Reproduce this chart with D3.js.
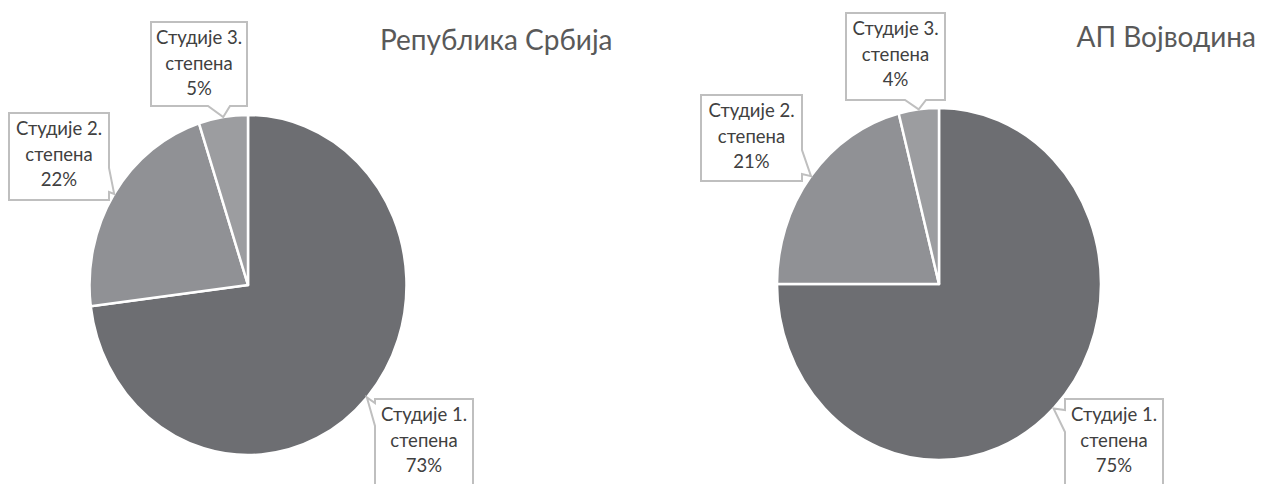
<!DOCTYPE html>
<html>
<head>
<meta charset="utf-8">
<script src="https://cdn.jsdelivr.net/npm/d3@7"></script>
<style>
  body { margin: 0; background: #fff; }
  svg { display: block; }
  text { font-family: Lato, "Open Sans", sans-serif; fill: #404040; }
</style>
</head>
<body>
<svg id="chart" width="1261" height="484"></svg>
<script>
var categories = ["Студије 1.", "Студије 2.", "Студије 3."];
var line2 = "степена";
var srbija_values = [73, 22, 5];
var vojvodina_values = [75, 21, 4];
var titles = ["Република Србија", "АП Војводина"];
var slice_colors = ["#6d6e72", "#909195", "#9c9da0"];

var svg = d3.select("#chart");

// layout of the two pies and their callout boxes
var pies = [
    {values: srbija_values, title: titles[0], cx: 248, cy: 285, rx: 158.5, ry: 170,
     title_x: 380, title_y: 50, title_anchor: "start",
     boxes: [
        {x: 375, y: 399, w: 98, h: 100, side: "left", a: 403, b: 426},
        {x: 9, y: 113, w: 100, h: 87, side: "right", a: 168, b: 192},
        {x: 151, y: 22, w: 96, h: 84, side: "bottom", a: 208, b: 230}
     ]},
    {values: vojvodina_values, title: titles[1], cx: 939, cy: 284, rx: 162, ry: 176,
     title_x: 1256, title_y: 47, title_anchor: "end",
     boxes: [
        {x: 1065, y: 399, w: 98, h: 100, side: "left", a: 410, b: 432},
        {x: 701, y: 95, w: 101, h: 86, side: "right", a: 150, b: 174},
        {x: 846, y: 13, w: 99, h: 87, side: "bottom", a: 905, b: 926}
     ]}
];

pies.forEach(function(p) {
    var arcs = d3.pie().sort(null).value(d => d)(p.values);
    var arc = d3.arc().innerRadius(0).outerRadius(p.rx);
    var edge = d3.arc().innerRadius(p.rx).outerRadius(p.rx);
    var k = p.ry / p.rx;

    var g = svg.append("g")
        .attr("transform", "translate(" + p.cx + "," + p.cy + ") scale(1," + k + ")");
    g.selectAll("path")
        .data(arcs)
        .enter().append("path")
            .attr("d", arc)
            .attr("fill", (d, i) => slice_colors[i])
            .attr("stroke", "#fff")
            .attr("stroke-width", 2.5)
            .attr("stroke-linejoin", "round")
            .attr("vector-effect", "non-scaling-stroke");

    svg.append("text")
        .attr("x", p.title_x)
        .attr("y", p.title_y)
        .attr("text-anchor", p.title_anchor)
        .attr("font-size", 28)
        .style("fill", "#595959")
        .text(p.title);

    arcs.forEach(function(d, i) {
        var c = edge.centroid(d);
        var tip = [p.cx + c[0], p.cy + c[1] * k];
        var b = p.boxes[i];
        var x0 = b.x, y0 = b.y, x1 = b.x + b.w, y1 = b.y + b.h;
        var pts;
        if (b.side == "bottom") {
            pts = [[x0, y0], [x1, y0], [x1, y1], [b.b, y1], tip, [b.a, y1], [x0, y1]];
        } else if (b.side == "right") {
            pts = [[x0, y0], [x1, y0], [x1, b.a], tip, [x1, b.b], [x1, y1], [x0, y1]];
        } else {
            pts = [[x0, y0], [x1, y0], [x1, y1], [x0, y1], [x0, b.b], tip, [x0, b.a]];
        }
        svg.append("path")
            .attr("d", d3.line()(pts) + "Z")
            .attr("fill", "#fff")
            .attr("stroke", "#bfbfbf")
            .attr("stroke-width", 2);

        var t = svg.append("text")
            .attr("text-anchor", "middle")
            .attr("font-size", 18.5);
        var lines = [categories[i], line2, p.values[i] + "%"];
        lines.forEach(function(s, j) {
            t.append("tspan")
                .attr("x", x0 + b.w / 2)
                .attr("y", y0 + 22 + j * 25.5)
                .text(s);
        });
    });
});
</script>
</body>
</html>
